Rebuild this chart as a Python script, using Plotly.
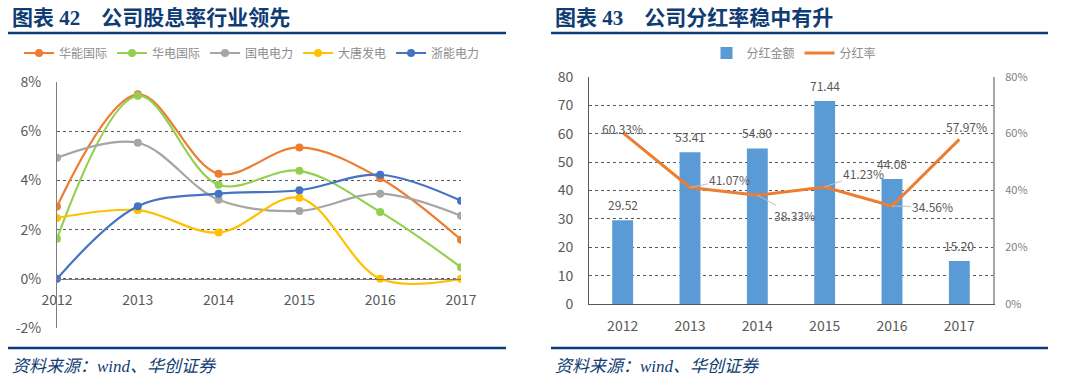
import plotly.graph_objects as go

W, H = 1081, 377

def px(x):
    return x / W

def py(y):
    return 1 - y / H

# ---------------- data ----------------
years = [2012, 2013, 2014, 2015, 2016, 2017]
year_labels = ["2012", "2013", "2014", "2015", "2016", "2017"]

huaneng = [2.94, 7.50, 4.27, 5.34, 4.09, 1.59]
huadian = [1.63, 7.44, 3.82, 4.39, 2.72, 0.47]
guodian = [4.92, 5.53, 3.21, 2.76, 3.46, 2.56]
datang = [2.47, 2.79, 1.88, 3.29, 0.00, 0.00]
zheneng = [0.00, 2.95, 3.46, 3.60, 4.23, 3.17]

series_names = ["华能国际", "华电国际", "国电电力", "大唐发电", "浙能电力"]
series_vals = [huaneng, huadian, guodian, datang, zheneng]
series_colors = ["#ED7D31", "#92D050", "#A5A5A5", "#FFC000", "#4472C4"]

dividend_amount = [29.52, 53.41, 54.80, 71.44, 44.08, 15.20]
payout_ratio = [60.33, 41.07, 38.33, 41.23, 34.56, 57.97]

left_ticks = [-2, 0, 2, 4, 6, 8]
left_ticktext = ["-2%", "0%", "2%", "4%", "6%", "8%"]

TITLE_COLOR = "#103C74"
LINE_COLOR = "#0B3D7E"
TICK_COLOR = "#595959"
FONT = "Noto Sans CJK SC"

fig = go.Figure()

# ---------------- left chart ----------------
for name, vals, col in zip(series_names, series_vals, series_colors):
    fig.add_trace(go.Scatter(
        x=years, y=vals, name=name, mode="lines+markers",
        line=dict(color=col, width=2.2, shape="spline", smoothing=1.0),
        marker=dict(color=col, size=8),
        xaxis="x", yaxis="y", legend="legend",
    ))

# ---------------- right chart ----------------
fig.add_trace(go.Bar(
    x=years, y=dividend_amount, name="分红金额",
    marker=dict(color="#5B9BD5", line=dict(width=0)),
    width=0.31, xaxis="x2", yaxis="y2", legend="legend2",
))
fig.add_trace(go.Scatter(
    x=years, y=[v / 100 for v in payout_ratio], name="分红率",
    mode="lines", line=dict(color="#ED7D31", width=3),
    xaxis="x2", yaxis="y3", legend="legend2",
))

annotations = []
# bar value labels
for yr, v in zip(years, dividend_amount):
    annotations.append(dict(
        x=yr, y=v, xref="x2", yref="y2", text=f"{v:.2f}", showarrow=False,
        yanchor="bottom", yshift=5, font=dict(size=12, color=TICK_COLOR, family=FONT),
    ))

# line labels: (ax, ay offsets in px, arrow?)
line_label_pos = [
    (0, -4, False),
    (40, -8, True),
    (37, 20, True),
    (39, -14, True),
    (41, 1, True),
    (7, -13, False),
]
for yr, v, (ax, ay, arr) in zip(years, payout_ratio, line_label_pos):
    if arr:
        annotations.append(dict(
            x=yr, y=v / 100, xref="x2", yref="y3", text=f"{v:.2f}%",
            showarrow=True, arrowhead=0, arrowwidth=1, arrowcolor="#BFBFBF",
            ax=ax, ay=ay, font=dict(size=12, color=TICK_COLOR, family=FONT),
        ))
    else:
        annotations.append(dict(
            x=yr, y=v / 100, xref="x2", yref="y3", text=f"{v:.2f}%",
            showarrow=False, xshift=ax, yshift=-ay,
            font=dict(size=12, color=TICK_COLOR, family=FONT),
        ))

# titles and footers
title_font = dict(family="Liberation Serif, Noto Sans CJK SC", size=21, color=TITLE_COLOR)
annotations.append(dict(x=px(10), y=py(18), xref="paper", yref="paper",
                        text="<b>图表 42    公司股息率行业领先</b>", showarrow=False,
                        xanchor="left", yanchor="middle", font=title_font))
annotations.append(dict(x=px(553), y=py(18), xref="paper", yref="paper",
                        text="<b>图表 43    公司分红率稳中有升</b>", showarrow=False,
                        xanchor="left", yanchor="middle", font=title_font))
foot_font = dict(family="Liberation Serif, Noto Sans CJK SC", size=17, color=TITLE_COLOR)
annotations.append(dict(x=px(10), y=py(366), xref="paper", yref="paper",
                        text="<i>资料来源：wind、华创证券</i>", showarrow=False,
                        xanchor="left", yanchor="middle", font=foot_font))
annotations.append(dict(x=px(553), y=py(366), xref="paper", yref="paper",
                        text="<i>资料来源：wind、华创证券</i>", showarrow=False,
                        xanchor="left", yanchor="middle", font=foot_font))

shapes = []
for x0, x1 in [(8, 506), (551, 1048)]:
    for yy in (33, 348):
        shapes.append(dict(type="line", xref="paper", yref="paper",
                           x0=px(x0), x1=px(x1), y0=py(yy), y1=py(yy),
                           line=dict(color=LINE_COLOR, width=2.5)))

fig.update_layout(
    width=W, height=H,
    margin=dict(l=0, r=0, t=0, b=0, autoexpand=False),
    paper_bgcolor="white", plot_bgcolor="white",
    font=dict(family=FONT, color=TICK_COLOR),
    showlegend=True,
    annotations=annotations,
    shapes=shapes,
    xaxis=dict(
        domain=[px(57), px(461)], range=[2012, 2017], anchor="free",
        position=py(279), tickvals=years, ticktext=year_labels,
        showgrid=False, zeroline=False, showline=True, linecolor="#7F7F7F",
        linewidth=1, ticks="", ticklabelstandoff=8, automargin=False,
        tickfont=dict(size=14, color=TICK_COLOR),
    ),
    yaxis=dict(
        domain=[py(328), py(82)], range=[-2, 8], anchor="x",
        tickvals=left_ticks, ticktext=left_ticktext,
        showgrid=True, gridcolor="#595959", griddash="dot", gridwidth=1,
        zeroline=False, showline=True, linecolor="#7F7F7F", linewidth=1,
        ticks="", ticklabelstandoff=12, automargin=False,
        tickfont=dict(size=14, color=TICK_COLOR),
    ),
    xaxis2=dict(
        domain=[px(589), px(993)], anchor="y2", range=[2011.5, 2017.5],
        tickvals=years, ticktext=year_labels,
        showgrid=False, zeroline=False, showline=True, linecolor="#595959",
        linewidth=1, ticks="", ticklabelstandoff=9, automargin=False,
        tickfont=dict(size=14, color=TICK_COLOR),
    ),
    yaxis2=dict(
        domain=[py(304.3), py(76.7)], range=[0, 80], dtick=10, anchor="x2",
        showgrid=True, gridcolor="#595959", griddash="dot", gridwidth=1,
        zeroline=False, showline=True, linecolor="#595959", linewidth=1,
        ticks="", ticklabelstandoff=12, automargin=False,
        tickfont=dict(size=14, color=TICK_COLOR),
    ),
    yaxis3=dict(
        domain=[py(304.3), py(76.7)], range=[0, 0.8], dtick=0.2, tickformat=".0%",
        overlaying="y2", side="right", anchor="x2",
        showgrid=False, zeroline=False, showline=True, linecolor="#A6A6A6",
        linewidth=2, ticks="", ticklabelstandoff=8, automargin=False,
        tickfont=dict(size=11, color="#808080"),
    ),
    legend=dict(
        orientation="h", x=px(252), y=py(53), xanchor="center", yanchor="middle",
        font=dict(size=12, color="#8C8C8C"), bgcolor="rgba(0,0,0,0)",
        itemwidth=30, tracegroupgap=0,
    ),
    legend2=dict(
        orientation="h", x=px(794), y=py(53), xanchor="center", yanchor="middle",
        font=dict(size=12, color="#8C8C8C"), bgcolor="rgba(0,0,0,0)",
        itemwidth=30,
    ),
)

fig.write_html(
    "out.html",
    config={"displayModeBar": False},
    post_script="document.body.style.margin='0px';document.body.style.overflow='hidden';",
)
